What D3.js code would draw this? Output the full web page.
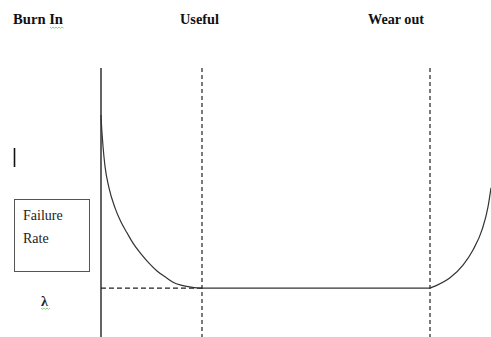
<!DOCTYPE html>
<html><head><meta charset="utf-8">
<script src="https://cdn.jsdelivr.net/npm/d3@7"></script>
<style>html,body{margin:0;padding:0;background:#fff;}svg{display:block;}</style>
</head><body>
<script>
// Phase labels
const phaseLabels = ["Burn In", "Useful", "Wear out"];
// Phase boundaries (time units)
const phaseBounds = [10.1, 32.9];
// Constant failure rate level
const lambdaLevel = 1.0;
// Burn-in (infant mortality) segment
const burnInT = [0, 0.05, 0.1, 0.2, 0.4, 0.8, 1.4, 2.0, 2.6, 3.2, 4.0, 4.8, 5.6, 6.4, 7.2, 8.0, 9.0, 10.0, 10.1];
const burnInR = [4.54, 4.33, 4.17, 3.90, 3.49, 3.05, 2.64, 2.35, 2.13, 1.92, 1.70, 1.51, 1.35, 1.23, 1.12, 1.06, 1.02, 1.0, 1.0];
// Useful life segment
const usefulT = [10.1, 32.9];
const usefulR = [1.0, 1.0];
// Wear-out segment
const wearT = [32.9, 33.4, 34.9, 36.2, 37.2, 38.1, 38.7, 39.0];
const wearR = [1.0, 1.04, 1.21, 1.47, 1.78, 2.19, 2.66, 3.05];

const W = 491, H = 337;
const svg = d3.select("body").append("svg").attr("width", W).attr("height", H);
const serif = "'Liberation Serif', 'Times New Roman', serif";

const x = d3.scaleLinear().domain([0, 39]).range([101, 491]);
const y = d3.scaleLinear().domain([0, 5.5]).range([337, 68]);

// y axis line
svg.append("line").attr("x1", x(0)).attr("x2", x(0)).attr("y1", y(5.5)).attr("y2", H)
  .attr("stroke", "#111").attr("stroke-width", 1.3);

// vertical dashed phase boundaries
phaseBounds.forEach(b => {
  svg.append("line").attr("x1", x(b)).attr("x2", x(b)).attr("y1", y(5.5)).attr("y2", H)
    .attr("stroke", "#222").attr("stroke-width", 1.2).attr("stroke-dasharray", "4,3");
});

// horizontal dashed lambda line
svg.append("line").attr("x1", x(0)).attr("x2", x(phaseBounds[0])).attr("y1", y(lambdaLevel)).attr("y2", y(lambdaLevel))
  .attr("stroke", "#222").attr("stroke-width", 1.1).attr("stroke-dasharray", "5,3");

const line = d3.line().x(d => x(d[0])).y(d => y(d[1])).curve(d3.curveMonotoneX);
const seg = (T, R) => T.map((t, i) => [t, R[i]]);
[seg(burnInT, burnInR), seg(usefulT, usefulR), seg(wearT, wearR)].forEach(d => {
  svg.append("path").attr("d", line(d)).attr("fill", "none")
    .attr("stroke", "#333").attr("stroke-width", 1.2);
});

// Phase titles
const titleX = [13, 180, 368];
phaseLabels.forEach((t, i) => {
  svg.append("text").attr("x", titleX[i]).attr("y", 24).text(t)
    .attr("font-family", serif)
    .attr("font-weight", "bold").attr("font-size", 14.5).attr("fill", "#111")
    .attr("textLength", [50, 39, 56][i]).attr("lengthAdjust", "spacingAndGlyphs");
});
// spell-check squiggles
function squiggle(x0, x1, yy) {
  let p = `M${x0},${yy}`;
  for (let xx = x0, k = 0; xx < x1; xx += 1.5, k++) p += ` L${xx + 1.5},${yy + (k % 2 ? 0 : 1.3)}`;
  svg.append("path").attr("d", p).attr("fill", "none").attr("stroke", "#6c6").attr("stroke-width", 0.8);
}
squiggle(50, 63, 27);

// small bar mark
svg.append("line").attr("x1", 14.5).attr("x2", 14.5).attr("y1", 148).attr("y2", 167)
  .attr("stroke", "#111").attr("stroke-width", 1.6);

// Failure Rate box
svg.append("rect").attr("x", 14.5).attr("y", 199.5).attr("width", 75).attr("height", 72)
  .attr("fill", "#fff").attr("stroke", "#555").attr("stroke-width", 1);
[["Failure", 220], ["Rate", 243]].forEach(([t, yy]) => {
  svg.append("text").attr("x", 23).attr("y", yy).text(t)
    .attr("font-family", serif)
    .attr("font-size", 14).attr("fill", "#222");
});
svg.append("text").attr("x", 41).attr("y", 306).text("λ")
  .attr("font-family", serif).attr("font-weight", "bold")
  .attr("font-size", 14).attr("fill", "#222");
squiggle(41, 50, 308);
</script>
</body></html>
